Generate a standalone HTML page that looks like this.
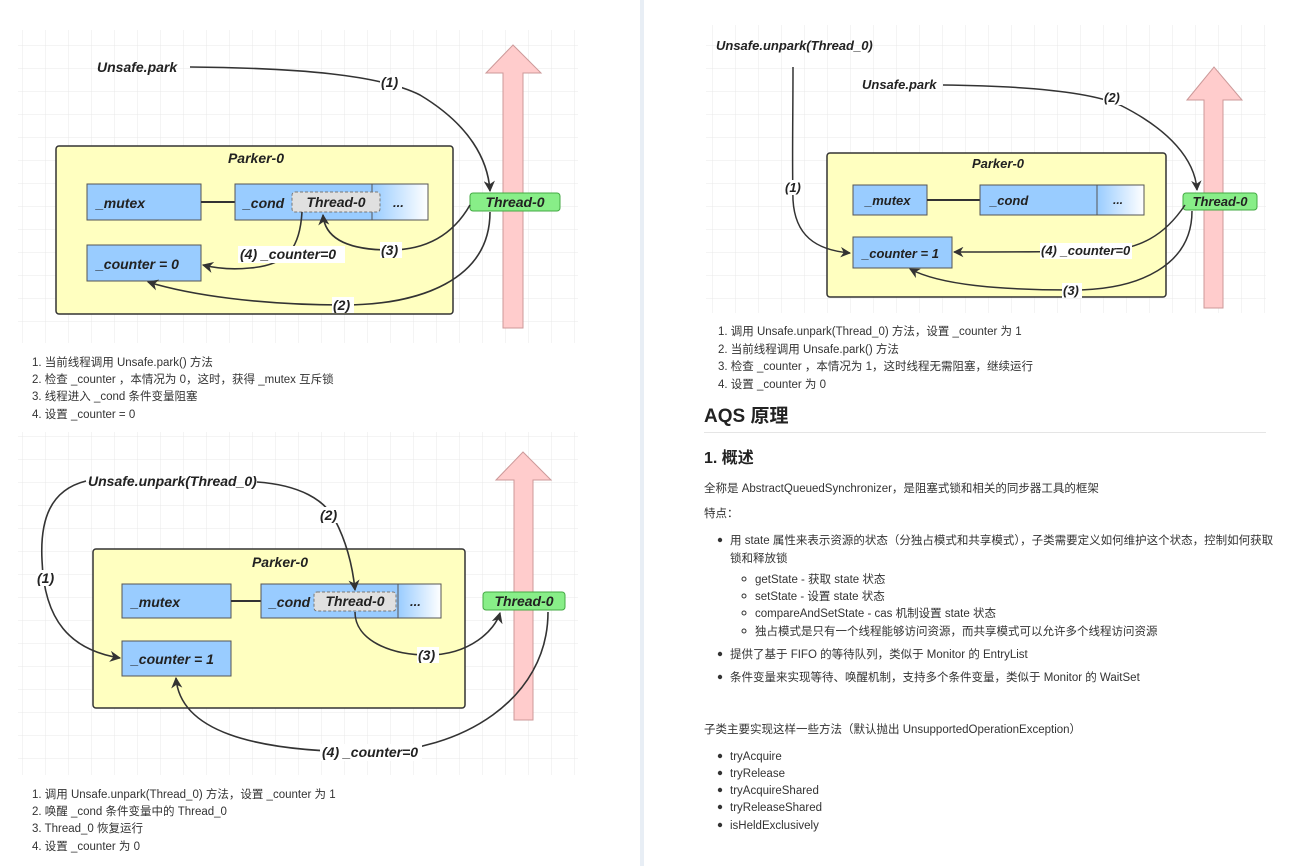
<!DOCTYPE html>
<html><head><meta charset="utf-8"><style>
html,body{margin:0;padding:0;background:#fff}
svg{display:block}
.t{font-family:"Liberation Sans","Noto Sans CJK SC",sans-serif;font-size:11.5px;fill:#333}
.d{font-family:"Liberation Sans",sans-serif;font-style:italic;font-weight:bold;fill:#222}
.h{font-family:"Liberation Sans","Noto Sans CJK SC",sans-serif;font-weight:bold;fill:#222}
</style></head><body>
<svg width="1297" height="866" viewBox="0 0 1297 866" xmlns="http://www.w3.org/2000/svg">
<defs>
<pattern id="g" width="23" height="23" patternUnits="userSpaceOnUse"><path d="M23 0V23H0" fill="none" stroke="#e8e8e8" stroke-width="1"/></pattern>
<marker id="a" viewBox="0 0 10 10" refX="9" refY="5" markerWidth="7" markerHeight="7" orient="auto-start-reverse"><path d="M0 0L10 5L0 10L3 5z" fill="#333"/></marker>
<linearGradient id="bl" x1="0" x2="1"><stop offset="0" stop-color="#99ccff"/><stop offset="1" stop-color="#fff"/></linearGradient>
</defs>
<rect x="640" y="0" width="4" height="866" fill="#e8eef5"/>

<!-- D1 -->
<rect x="18" y="30" width="560" height="313" fill="url(#g)"/>
<path d="M486 73L513 45L541 73H523V328H503V73Z" fill="#ffcccc" stroke="#c99"/>
<rect x="56" y="146" width="397" height="168" rx="3" fill="#ffffc0" stroke="#333" stroke-width="1.5"/>
<text class="d" x="256" y="163" font-size="14" text-anchor="middle">Parker-0</text>
<rect x="87" y="184" width="114" height="36" fill="#99ccff" stroke="#555"/>
<text class="d" x="96" y="208" font-size="14">_mutex</text>
<line x1="201" y1="202" x2="235" y2="202" stroke="#333" stroke-width="2"/>
<rect x="235" y="184" width="137" height="36" fill="#99ccff" stroke="#555"/>
<rect x="372" y="184" width="56" height="36" fill="url(#bl)" stroke="#555"/>
<text class="d" x="243" y="208" font-size="14">_cond</text>
<text class="d" x="393" y="207" font-size="13">...</text>
<rect x="292" y="192" width="88" height="20" rx="3" fill="#e0e0e0" stroke="#777" stroke-dasharray="3 2"/>
<text class="d" x="336" y="207" font-size="14" text-anchor="middle">Thread-0</text>
<rect x="87" y="245" width="114" height="36" fill="#99ccff" stroke="#555"/>
<text class="d" x="96" y="269" font-size="14">_counter = 0</text>
<rect x="470" y="193" width="90" height="18" rx="3" fill="#88ee88" stroke="#4a4"/>
<text class="d" x="515" y="207" font-size="14" text-anchor="middle">Thread-0</text>
<g fill="none" stroke="#333" stroke-width="1.6">
<path d="M190 67C300 68 380 75 420 95C470 125 488 160 490 191" marker-end="url(#a)"/>
<path d="M470 205C450 240 420 250 390 250C350 250 325 240 323 215" marker-end="url(#a)"/>
<path d="M302 212C300 245 290 265 250 268C230 270 215 268 203 265" marker-end="url(#a)"/>
<path d="M490 212C490 280 420 305 343 305C260 305 190 295 148 282" marker-end="url(#a)"/>
</g>
<g class="d" font-size="14"><rect x="380" y="74" width="22" height="16" fill="#fff"/><text x="381" y="87">(1)</text>
<rect x="380" y="242" width="22" height="16" fill="#fff"/><text x="381" y="255">(3)</text>
<rect x="238" y="246" width="107" height="17" fill="#fff"/><text x="240" y="259">(4) _counter=0</text>
<rect x="332" y="297" width="22" height="16" fill="#fff"/><text x="333" y="310">(2)</text></g>
<text class="d" x="97" y="72" font-size="14">Unsafe.park</text>
<g class="t"><text x="32" y="366">1. 当前线程调用 Unsafe.park() 方法</text><text x="32" y="383">2. 检查 _counter ，本情况为 0，这时，获得 _mutex 互斥锁</text><text x="32" y="400">3. 线程进入 _cond 条件变量阻塞</text><text x="32" y="418">4. 设置 _counter = 0</text></g>

<!-- D2 -->
<rect x="18" y="432" width="560" height="343" fill="url(#g)"/>
<path d="M496 480L523 452L551 480H533V720H514V480Z" fill="#ffcccc" stroke="#c99"/>
<rect x="93" y="549" width="372" height="159" rx="3" fill="#ffffc0" stroke="#333" stroke-width="1.5"/>
<text class="d" x="280" y="567" font-size="14" text-anchor="middle">Parker-0</text>
<rect x="122" y="584" width="109" height="34" fill="#99ccff" stroke="#555"/>
<text class="d" x="131" y="607" font-size="14">_mutex</text>
<line x1="231" y1="601" x2="261" y2="601" stroke="#333" stroke-width="2"/>
<rect x="261" y="584" width="137" height="34" fill="#99ccff" stroke="#555"/>
<rect x="398" y="584" width="43" height="34" fill="url(#bl)" stroke="#555"/>
<text class="d" x="269" y="607" font-size="14">_cond</text>
<text class="d" x="410" y="606" font-size="13">...</text>
<rect x="314" y="592" width="82" height="19" rx="3" fill="#e0e0e0" stroke="#777" stroke-dasharray="3 2"/>
<text class="d" x="355" y="606" font-size="14" text-anchor="middle">Thread-0</text>
<rect x="122" y="641" width="109" height="35" fill="#99ccff" stroke="#555"/>
<text class="d" x="131" y="664" font-size="14">_counter = 1</text>
<rect x="483" y="592" width="82" height="18" rx="3" fill="#88ee88" stroke="#4a4"/>
<text class="d" x="524" y="606" font-size="14" text-anchor="middle">Thread-0</text>
<g fill="none" stroke="#333" stroke-width="1.6">
<path d="M86 481C50 490 40 520 42 560C44 620 70 650 120 658" marker-end="url(#a)"/>
<path d="M257 482C300 485 325 500 335 520C348 545 353 570 355 590" marker-end="url(#a)"/>
<path d="M355 612C355 640 390 655 428 655C470 655 495 630 500 613" marker-end="url(#a)"/>
<path d="M548 612C548 700 460 752 370 752C250 752 180 730 176 678" marker-end="url(#a)"/>
</g>
<g class="d" font-size="14"><rect x="36" y="570" width="22" height="16" fill="#fff"/><text x="37" y="583">(1)</text>
<rect x="319" y="507" width="22" height="16" fill="#fff"/><text x="320" y="520">(2)</text>
<rect x="417" y="647" width="22" height="16" fill="#fff"/><text x="418" y="660">(3)</text>
<rect x="320" y="744" width="102" height="17" fill="#fff"/><text x="322" y="757">(4) _counter=0</text></g>
<text class="d" x="88" y="486" font-size="14">Unsafe.unpark(Thread_0)</text>
<g class="t"><text x="32" y="798">1. 调用 Unsafe.unpark(Thread_0) 方法，设置 _counter 为 1</text><text x="32" y="815">2. 唤醒 _cond 条件变量中的 Thread_0</text><text x="32" y="832">3. Thread_0 恢复运行</text><text x="32" y="850">4. 设置 _counter 为 0</text></g>

<!-- D3 -->
<rect x="706" y="25" width="560" height="288" fill="url(#g)"/>
<path d="M1187 100L1214 67L1242 100H1223V308H1204V100Z" fill="#ffcccc" stroke="#c99"/>
<rect x="827" y="153" width="339" height="144" rx="3" fill="#ffffc0" stroke="#333" stroke-width="1.5"/>
<text class="d" x="998" y="168" font-size="13" text-anchor="middle">Parker-0</text>
<rect x="853" y="185" width="74" height="30" fill="#99ccff" stroke="#555"/>
<text class="d" x="865" y="205" font-size="13">_mutex</text>
<line x1="927" y1="200" x2="980" y2="200" stroke="#333" stroke-width="2"/>
<rect x="980" y="185" width="117" height="30" fill="#99ccff" stroke="#555"/>
<rect x="1097" y="185" width="47" height="30" fill="url(#bl)" stroke="#555"/>
<text class="d" x="990" y="205" font-size="13">_cond</text>
<text class="d" x="1113" y="204" font-size="12">...</text>
<rect x="853" y="237" width="99" height="31" fill="#99ccff" stroke="#555"/>
<text class="d" x="862" y="258" font-size="13">_counter = 1</text>
<rect x="1183" y="193" width="74" height="17" rx="3" fill="#88ee88" stroke="#4a4"/>
<text class="d" x="1220" y="206" font-size="13" text-anchor="middle">Thread-0</text>
<g fill="none" stroke="#333" stroke-width="1.5">
<path d="M793 67C793 120 792 160 793 200C795 235 815 250 850 253" marker-end="url(#a)"/>
<path d="M943 85C1030 86 1090 92 1120 105C1170 130 1195 160 1197 190" marker-end="url(#a)"/>
<path d="M1185 205C1165 235 1140 250 1100 251C1050 252 980 252 954 252" marker-end="url(#a)"/>
<path d="M1192 211C1192 265 1140 290 1072 290C1000 290 940 285 910 269" marker-end="url(#a)"/>
</g>
<g class="d" font-size="13"><rect x="784" y="180" width="20" height="15" fill="#fff"/><text x="785" y="192">(1)</text>
<rect x="1103" y="90" width="20" height="15" fill="#fff"/><text x="1104" y="102">(2)</text>
<rect x="1062" y="283" width="20" height="15" fill="#fff"/><text x="1063" y="295">(3)</text>
<rect x="1040" y="243" width="92" height="16" fill="#fff"/><text x="1041" y="255">(4) _counter=0</text></g>
<text class="d" x="716" y="50" font-size="13">Unsafe.unpark(Thread_0)</text>
<text class="d" x="862" y="89" font-size="13">Unsafe.park</text>
<g class="t"><text x="718" y="335">1. 调用 Unsafe.unpark(Thread_0) 方法，设置 _counter 为 1</text><text x="718" y="353">2. 当前线程调用 Unsafe.park() 方法</text><text x="718" y="370">3. 检查 _counter ，本情况为 1，这时线程无需阻塞，继续运行</text><text x="718" y="388">4. 设置 _counter 为 0</text></g>

<!-- text -->
<text class="h" x="704" y="422" font-size="19">AQS 原理</text>
<line x1="704" y1="432.5" x2="1266" y2="432.5" stroke="#e5e5e5"/>
<text class="h" x="704" y="463" font-size="16">1. 概述</text>
<g class="t">
<text x="704" y="492">全称是 AbstractQueuedSynchronizer，是阻塞式锁和相关的同步器工具的框架</text>
<text x="704" y="517">特点：</text>
<circle cx="720" cy="540" r="2.2" fill="#333"/><text x="730" y="544">用 state 属性来表示资源的状态（分独占模式和共享模式），子类需要定义如何维护这个状态，控制如何获取</text>
<text x="730" y="562">锁和释放锁</text>
<circle cx="744" cy="579" r="2" fill="none" stroke="#333"/><text x="755" y="583">getState - 获取 state 状态</text>
<circle cx="744" cy="596" r="2" fill="none" stroke="#333"/><text x="755" y="600">setState - 设置 state 状态</text>
<circle cx="744" cy="613" r="2" fill="none" stroke="#333"/><text x="755" y="617">compareAndSetState - cas 机制设置 state 状态</text>
<circle cx="744" cy="631" r="2" fill="none" stroke="#333"/><text x="755" y="635">独占模式是只有一个线程能够访问资源，而共享模式可以允许多个线程访问资源</text>
<circle cx="720" cy="654" r="2.2" fill="#333"/><text x="730" y="658">提供了基于 FIFO 的等待队列，类似于 Monitor 的 EntryList</text>
<circle cx="720" cy="677" r="2.2" fill="#333"/><text x="730" y="681">条件变量来实现等待、唤醒机制，支持多个条件变量，类似于 Monitor 的 WaitSet</text>
<text x="704" y="733">子类主要实现这样一些方法（默认抛出 UnsupportedOperationException）</text>
<circle cx="720" cy="756" r="2.2" fill="#333"/><text x="730" y="760">tryAcquire</text>
<circle cx="720" cy="773" r="2.2" fill="#333"/><text x="730" y="777">tryRelease</text>
<circle cx="720" cy="790" r="2.2" fill="#333"/><text x="730" y="794">tryAcquireShared</text>
<circle cx="720" cy="807" r="2.2" fill="#333"/><text x="730" y="811">tryReleaseShared</text>
<circle cx="720" cy="825" r="2.2" fill="#333"/><text x="730" y="829">isHeldExclusively</text>
</g>
</svg>
</body></html>
